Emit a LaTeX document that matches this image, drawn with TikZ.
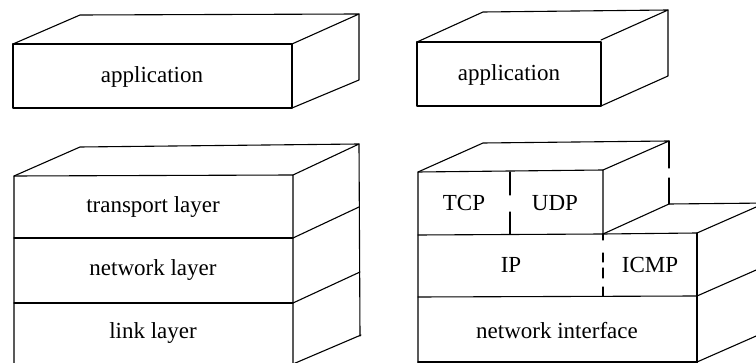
\documentclass[tikz,border=0pt]{standalone}
\usepackage{fontspec}
\setmainfont{Liberation Serif}
\begin{document}
\begin{tikzpicture}[x=1pt,y=-1pt,
  edge/.style={line width=1.1pt,line join=round,line cap=round},
  lbl/.style={font=\fontsize{23}{26}\selectfont,inner sep=0pt}]
\useasboundingbox (0,0) rectangle (756,363);
\begin{scope}
\clip (0,0) rectangle (756,363);
% ---------- left top: application ----------
\draw[edge] (13,44) rectangle (292,108);
\draw[edge] (13,44) -- (80,15) -- (359,14) -- (292,44);
\draw[edge] (359,14) -- (359,80) -- (292,108);
\node[lbl] (lapp) at (152,77) {application};
% ---------- left bottom: stack ----------
\draw[edge] (14,364) -- (14,176) -- (293,175) -- (293,364);
\draw[edge] (14,176) -- (80,147) -- (359,144) -- (293,175);
\draw[edge] (14,238) -- (293,238);
\draw[edge] (14,303) -- (293,303);
\draw[edge] (359,144) -- (360,336);
\draw[edge] (293,238) -- (359,207);
\draw[edge] (293,303) -- (360,272);
\draw[edge] (293,364) -- (361,335);
\node[lbl] (trans) at (153,207) {transport layer};
\node[lbl] (net) at (153,270) {network layer};
\node[lbl] (link) at (153,333) {link layer};
% ---------- right top: application ----------
\draw[edge] (417,42) rectangle (601,106);
\draw[edge] (417,42) -- (483,12) -- (668,10) -- (601,40);
\draw[edge] (668,10) -- (668,76) -- (601,106);
\node[lbl] (rapp) at (509,75) {application};
% ---------- right bottom: TCP/IP stack ----------
\draw[edge] (418,364) -- (418,172) -- (603,170) -- (603,234);
\draw[edge] (418,172) -- (483,143) -- (669,141) -- (603,170);
\draw[edge] (669,141) -- (669,168);
\draw[edge] (669,178) -- (669,204);
\draw[edge] (603,234) -- (669,204) -- (770,203);
\draw[edge] (603,234) -- (697,233) -- (763,204);
\draw[edge] (697,233) -- (697,364);
\draw[edge] (418,235) -- (603,234);
\draw[edge] (418,297) -- (697,296) -- (763,267);
\draw[edge] (697,362) -- (763,333);
\draw[edge] (418,362) -- (697,362);
% dashed separators
\draw[edge] (510,172) -- (510,195);
\draw[edge] (510,212) -- (510,234);
\draw[edge] (603,234) -- (603,240);
\draw[edge] (603,253) -- (603,262);
\draw[edge] (603,268) -- (603,278);
\draw[edge] (603,287) -- (603,296);
\node[lbl] (tcp) at (464,203) {TCP};
\node[lbl] (udp) at (555,203) {UDP};
\node[lbl] (ip) at (511,265) {IP};
\node[lbl] (icmp) at (650,265) {ICMP};
\node[lbl] (ni) at (557,331) {network interface};
\end{scope}
\end{tikzpicture}
\end{document}
